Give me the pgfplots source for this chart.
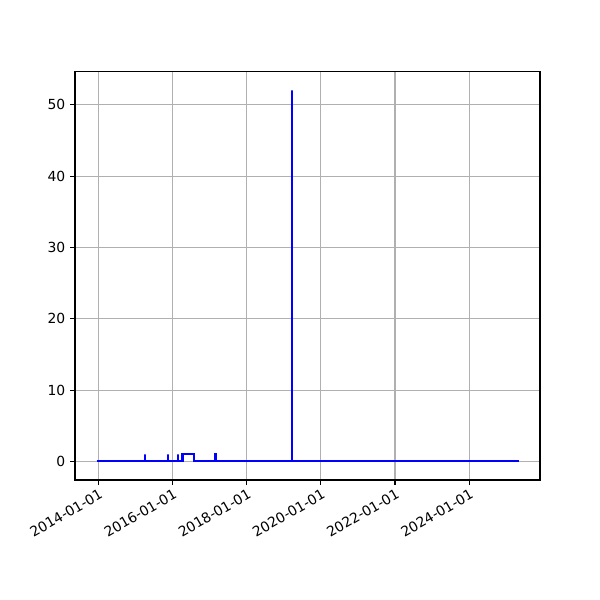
\documentclass[border=0pt]{standalone}
\usepackage{pgfplots}
\pgfplotsset{compat=1.18}
\usepackage{fontspec}
\setmainfont{DejaVu Sans}
\begin{document}
\fontsize{10}{12}\selectfont
\begin{tikzpicture}
\path (0,0) rectangle (432pt,432pt);
\begin{axis}[
  at={(54pt,86.4pt)}, anchor=south west,
  scale only axis, width=334.8pt, height=293.8pt,
  xmin=2013.37, xmax=2025.91, ymin=-2.6, ymax=54.6,
  xtick={2014,2016,2018,2020,2022,2024},
  xticklabels={2014-01-01,2016-01-01,2018-01-01,2020-01-01,2022-01-01,2024-01-01},
  ytick={0,10,20,30,40,50},
  xticklabel style={rotate=30, anchor=north east, inner sep=1pt, yshift=-1pt},
  tick align=outside, tick pos=left,
  major tick length=3.5pt,
  every tick/.style={black, line width=0.8pt},
  grid=major, grid style={color=black!31, line width=0.8pt},
  axis line style={line width=0.8pt},
  /pgf/number format/assume math mode=true,
  ticklabel style={font=\fontsize{10}{12}\selectfont},
]
\addplot[blue, line width=1.5pt, line join=miter] coordinates {
(2013.95,0) (2015.25,0)(2015.25,1)(2015.25,0)
(2015.878,0)(2015.878,1)(2015.878,0)
(2016.15,0)(2016.15,1)(2016.15,0)
(2016.27,0)(2016.27,1)(2016.57,1)(2016.57,0)
(2017.145,0)(2017.145,1)(2017.16,1)(2017.16,0)
(2019.23,0)(2019.23,52)(2019.23,0)
(2025.35,0)
};
\end{axis}
\end{tikzpicture}
\end{document}
